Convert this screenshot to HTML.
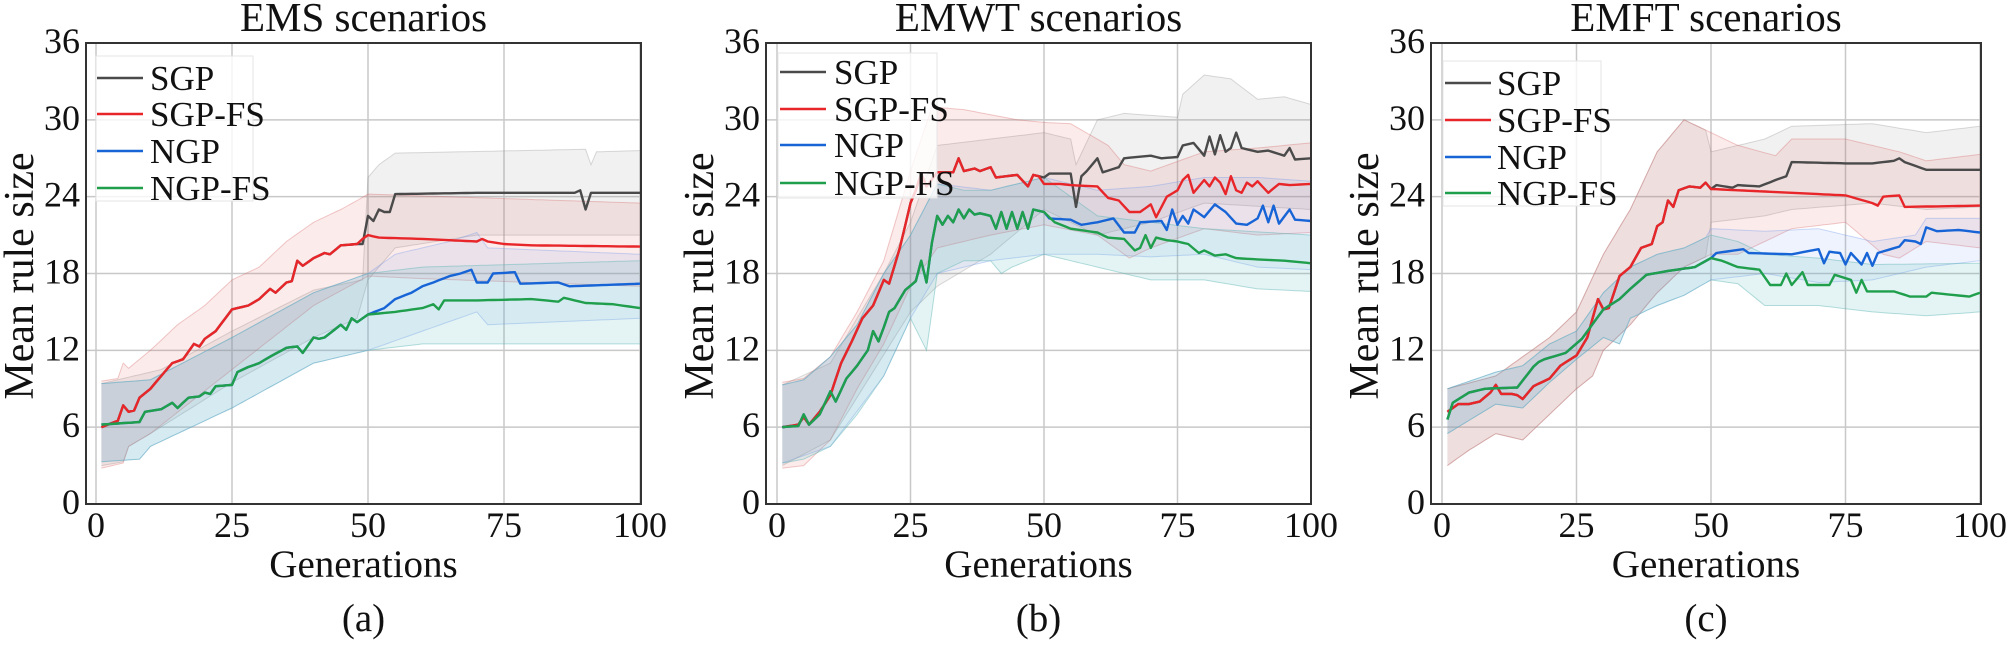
<!DOCTYPE html>
<html><head><meta charset="utf-8">
<style>
html,body{margin:0;padding:0;background:#fff;}
svg{display:block;}
text{font-family:"Liberation Serif","Times New Roman",serif;fill:#111;}
</style></head>
<body>
<svg id="s" width="2007" height="646" viewBox="0 0 2007 646" xmlns="http://www.w3.org/2000/svg"></svg>
<script>
const NS="http://www.w3.org/2000/svg";
const S=document.getElementById('s');
function el(t,a,txt){const e=document.createElementNS(NS,t);for(const k in a)e.setAttribute(k,a[k]);if(txt!==undefined)e.textContent=txt;S.appendChild(e);return e;}
function interp(kp){const out=[];for(let g=1;g<=100;g++){let v=kp[kp.length-1][1];for(let i=0;i<kp.length-1;i++){const a=kp[i],b=kp[i+1];if(g>=a[0]&&g<=b[0]){v=a[1]+(b[1]-a[1])*(g-a[0])/(b[0]-a[0]||1);break;}}if(g<kp[0][0])v=kp[0][1];out.push(v);}return out;}
function merge(pre,post){const a=interp(pre),b=interp(post);return a.map((v,i)=>i+1>=post[0][0]?b[i]:v);}
const TOP=43,BOT=504;
const C={sgp:'#4a4a4a',sgpfs:'#e8262a',ngp:'#1764d6',ngpfs:'#1f9e4c'};
const F={sgp:'rgba(150,150,150,0.13)',sgpfs:'rgba(220,90,90,0.12)',ngp:'rgba(110,150,235,0.11)',ngpfs:'rgba(90,185,185,0.16)'};
const E={sgp:'rgba(150,150,150,0.35)',sgpfs:'rgba(215,100,100,0.35)',ngp:'rgba(110,150,235,0.35)',ngpfs:'rgba(90,180,180,0.45)'};

function panel(P){
 const X=g=>P.x0+(P.x100-P.x0)*g/100, Y=v=>BOT-(BOT-TOP)*v/36;
 for(let g=0;g<=100;g+=25)el('line',{x1:X(g),x2:X(g),y1:TOP,y2:BOT,stroke:'#c8c8c8','stroke-width':1.5});
 for(let v=6;v<36;v+=6)el('line',{x1:P.L,x2:P.R,y1:Y(v),y2:Y(v),stroke:'#c8c8c8','stroke-width':1.5});
 for(const k of ['sgp','sgpfs','ngp','ngpfs']){
  const u=P.bands[k][0],l=P.bands[k][1];
  let d='M';for(let i=0;i<100;i++)d+=X(i+1).toFixed(1)+','+Y(u[i]).toFixed(1)+' L';
  for(let i=99;i>=0;i--)d+=X(i+1).toFixed(1)+','+Y(l[i]).toFixed(1)+(i?' L':' Z');
  el('path',{d:d,fill:F[k],stroke:'none'});
  for(const arr of [u,l]){el('polyline',{points:arr.map((v,i)=>X(i+1).toFixed(1)+','+Y(v).toFixed(1)).join(' '),fill:'none',stroke:E[k],'stroke-width':1});}
 }
 for(const k of ['sgp','sgpfs','ngp','ngpfs']){
  el('polyline',{points:P.m[k].map((v,i)=>X(i+1).toFixed(1)+','+Y(v).toFixed(1)).join(' '),fill:'none',stroke:C[k],'stroke-width':2.4,'stroke-linejoin':'round'});
 }
 el('rect',{x:P.L,y:TOP,width:P.R-P.L,height:BOT-TOP,fill:'none',stroke:'#333','stroke-width':2});
 for(let v=0;v<=36;v+=6)el('text',{x:P.L-6,y:Y(v)+10,'font-size':36,'text-anchor':'end'},String(v));
 for(let g=0;g<=100;g+=25)el('text',{x:X(g),y:537,'font-size':36,'text-anchor':'middle'},String(g));
 const cx=(P.L+P.R)/2;
 el('text',{x:cx,y:577,'font-size':39,'text-anchor':'middle'},'Generations');
 el('text',{x:cx,y:631,'font-size':39,'text-anchor':'middle'},P.cap);
 el('text',{x:cx,y:31,'font-size':41,'text-anchor':'middle'},P.title);
 el('text',{x:0,y:0,'font-size':42,'text-anchor':'middle',transform:`translate(${P.L-53},276) rotate(-90)`},'Mean rule size');
 const lg=P.leg;
 el('rect',{x:lg.bx,y:lg.by,width:lg.bw,height:lg.bh,fill:'rgba(255,255,255,0.8)',stroke:'#e6e6e6','stroke-width':1});
 const names=[['sgp','SGP'],['sgpfs','SGP-FS'],['ngp','NGP'],['ngpfs','NGP-FS']];
 names.forEach((n,i)=>{const y=lg.rows[i];el('line',{x1:lg.lx,x2:lg.lx+46,y1:y,y2:y,stroke:C[n[0]],'stroke-width':2.6});el('text',{x:lg.tx,y:y+12,'font-size':35},n[1]);});
}

(function(){
 const red=interp([[1,6],[4,6.5],[5,7.7],[6,7.2],[7,7.3],[8,8.3],[10,9],[12,10],[14,11],[16,11.3],[18,12.5],[19,12.3],[20,12.9],[22,13.5],[25,15.2],[28,15.5],[30,16],[32,16.8],[33,16.5],[35,17.3],[36,17.4],[37,19],[38,18.6],[40,19.2],[42,19.6],[43,19.5],[45,20.2],[48,20.3],[49,20.7],[50,21],[52,20.8],[60,20.7],[70,20.5],[71,20.7],[72,20.5],[75,20.3],[80,20.2],[100,20.1]]);
 const green=interp([[1,6.2],[8,6.4],[9,7.2],[12,7.4],[14,7.9],[15,7.5],[17,8.3],[19,8.4],[20,8.7],[21,8.6],[22,9.2],[25,9.3],[26,10.3],[28,10.7],[30,11],[32,11.5],[35,12.2],[37,12.3],[38,11.8],[40,13],[41,12.9],[42,13],[45,14],[46,13.6],[47,14.5],[48,14.2],[50,14.8],[55,15],[60,15.3],[62,15.6],[63,15.2],[64,15.9],[70,15.9],[80,16],[85,15.8],[86,16.1],[90,15.7],[95,15.6],[100,15.3]]);
 const blue=green.map((v,i)=>v);const bk=interp([[50,14.8],[53,15.3],[55,16],[58,16.5],[60,17],[62,17.3],[65,17.8],[67,18],[69,18.3],[70,17.3],[72,17.3],[73,18],[77,18.1],[78,17.2],[85,17.3],[87,17],[100,17.2]]);
 for(let g=50;g<=100;g++)blue[g-1]=bk[g-1];
 const sgp=red.slice();const sk=interp([[49,20.3],[50,22.5],[51,22.1],[52,23],[53,22.8],[54,22.8],[55,24.2],[70,24.3],[88,24.3],[89,24.5],[90,23],[91,24.3],[100,24.3]]);
 for(let g=49;g<=100;g++)sgp[g-1]=sk[g-1];
 panel({L:86,R:641,x0:96,x100:640,title:'EMS scenarios',cap:'(a)',
  m:{sgp:sgp,sgpfs:red,ngp:blue,ngpfs:green},
  bands:{
   sgp:[interp([[1,9.4],[12,10.5],[25,13.5],[40,16.7],[49,17.5],[50,25.5],[52,26.5],[55,27.4],[90,27.7],[91,26.5],[92,27.5],[100,27.6]]),interp([[1,3],[5,3.3],[6,4.5],[10,5.5],[25,9.5],[40,13],[48,14.5],[50,17.5],[55,20],[70,21],[90,21],[100,21]])],
   sgpfs:[interp([[1,9.6],[4,9.8],[5,11],[6,10.6],[10,12],[15,14],[20,15.5],[25,17.5],[30,18.5],[35,20.5],[40,22],[45,23],[48,23.7],[50,24.2],[100,23.5]]),interp([[1,2.8],[5,3.2],[6,4.5],[10,5.5],[25,10.5],[40,15.5],[50,17.8],[60,17.6],[100,17]])],
   ngp:[merge([[1,9.4],[10,9.7],[25,13],[40,16.5],[50,18]],[[50,18],[55,19.5],[65,20.5],[70,21.2],[72,20],[100,19.5]]),merge([[1,3.3],[8,3.5],[10,4.5],[25,7.5],[40,11],[50,12]],[[50,12],[60,13.5],[70,15],[72,14],[100,14.5]])],
   ngpfs:[interp([[1,9.4],[10,9.7],[25,13],[40,16.5],[50,18],[60,18.5],[100,19]]),interp([[1,3.3],[8,3.5],[10,4.5],[25,7.5],[40,11],[50,12],[60,12.5],[100,12.5]])]},
  leg:{bx:96,by:56,bw:157,bh:145,lx:97,tx:150,rows:[78,114,151,188]}});
})();

(function(){
 const red=interp([[1,6],[4,6.2],[5,6.8],[6,6.2],[8,7.2],[10,8.5],[12,11],[14,12.7],[16,14.5],[18,15.5],[20,17.5],[21,17.2],[23,20],[25,23.5],[26,24.5],[27,25.8],[28,24.8],[30,25.9],[33,25.9],[34,27],[35,26],[37,26.2],[38,26],[40,26.3],[41,25.5],[45,25.7],[47,24.8],[48,25.7],[49,25.6],[50,25],[53,25],[55,24.9],[60,24.8],[62,23.9],[64,23.7],[66,22.8],[68,22.8],[70,23.4],[71,22.4],[73,24],[75,24.5],[76,25.3],[77,25.7],[78,24.3],[80,25.3],[81,24.8],[82,25.5],[83,25.1],[84,24.2],[85,25.6],[86,24.5],[87,24.3],[88,25.1],[89,24.8],[90,25.2],[92,24.3],[94,25],[96,24.9],[100,25]]);
 const green=interp([[1,6],[4,6.1],[5,7],[6,6.2],[8,7],[10,8.8],[11,8],[13,9.8],[15,10.8],[17,12],[18,13.5],[19,12.7],[20,13.8],[21,15],[22,15.3],[24,16.7],[26,17.4],[27,19],[28,17.3],[29,20.4],[30,22.5],[31,21.8],[32,22.5],[33,22],[34,23],[35,22.3],[36,23],[37,22.6],[38,22.7],[40,22.5],[41,21.5],[42,22.8],[43,21.5],[44,22.8],[45,21.5],[46,22.8],[47,21.5],[48,23],[50,22.8],[52,22],[55,21.5],[60,21.2],[62,20.8],[65,20.7],[67,19.8],[68,20],[69,21],[70,20],[71,20.8],[73,20.6],[75,20.5],[77,20.3],[79,19.6],[80,19.8],[82,19.4],[84,19.5],[86,19.2],[90,19.1],[95,19],[100,18.8]]);
 const blue=green.slice();const bk=interp([[50,22.8],[51,22.3],[55,22.2],[57,21.8],[60,22],[63,22.3],[65,21.2],[67,21.2],[68,22],[72,22.1],[73,21.4],[74,23],[75,21.8],[76,22.5],[77,21.9],[78,23],[80,22.4],[82,23.4],[84,22.8],[86,21.9],[88,21.8],[90,22.3],[91,23.3],[92,22],[93,23.3],[94,21.9],[96,23],[97,22.2],[100,22.1]]);
 for(let g=50;g<=100;g++)blue[g-1]=bk[g-1];
 const sgp=red.slice();const sk=interp([[49,25.6],[50,25.5],[51,25.8],[55,25.8],[56,23.2],[57,25.6],[58,26],[60,27],[61,25.9],[64,26.3],[65,27],[70,27.2],[72,27],[75,27.1],[76,28],[78,28.2],[80,27.2],[81,28.7],[82,27.3],[83,28.8],[84,27.5],[85,27.8],[86,29],[87,27.8],[90,27.5],[92,27.6],[95,27.2],[96,27.8],[97,26.9],[100,27]]);
 for(let g=49;g<=100;g++)sgp[g-1]=sk[g-1];
 panel({L:766,R:1311,x0:777,x100:1311,title:'EMWT scenarios',cap:'(b)',
  m:{sgp:sgp,sgpfs:red,ngp:blue,ngpfs:green},
  bands:{
   sgp:[interp([[1,9.3],[10,11],[20,18],[25,22],[30,28],[50,29],[55,28.5],[56,26.5],[60,30],[65,30.5],[75,30.2],[76,32],[80,33.5],[85,33.2],[90,31.6],[95,31.8],[100,31.2]]),interp([[1,3],[10,5],[25,15],[30,17],[40,19.5],[50,23],[60,21],[70,22],[80,23.5],[100,23]])],
   sgpfs:[interp([[1,9.5],[5,9.8],[10,11.5],[15,15],[20,19],[25,26],[29,31],[35,30.8],[45,30],[50,29.8],[55,29.7],[62,28],[65,26.5],[70,26],[80,27.5],[90,27.8],[100,28.2]]),interp([[1,2.8],[5,3],[10,5],[15,9],[20,12.5],[25,17],[30,20],[40,21],[50,21.8],[60,21],[66,19.2],[70,20],[80,21.5],[90,21],[100,21.2]])],
   ngp:[merge([[1,9.3],[5,9.7],[10,11.5],[15,14],[20,18],[25,21],[30,25],[40,24.5],[50,25.5]],[[50,25.5],[60,24.5],[70,24.8],[80,25.5],[90,25.5],[100,25.2]]),merge([[1,3.2],[10,4.5],[20,10],[25,14.5],[30,18],[40,19],[50,19.5]],[[50,19.5],[60,19.5],[70,19.3],[80,19.5],[90,18.5],[100,18.3]])],
   ngpfs:[interp([[1,9.3],[5,9.7],[10,11.5],[15,14],[20,18],[25,21],[30,25],[35,24.5],[40,24.5],[50,25.5],[60,22.5],[70,22],[80,21.5],[100,21]]),interp([[1,3.2],[5,3.5],[10,4.5],[15,7],[20,10],[25,14.5],[28,12],[30,18],[35,19],[40,19],[42,18],[44,18.5],[50,19.5],[60,18.5],[70,17.5],[80,17.5],[90,16.8],[100,16.6]])]},
  leg:{bx:778,by:53,bw:159,bh:145,lx:780,tx:834,rows:[72,109,145,183]}});
})();

(function(){
 const red=interp([[1,7.2],[3,7.8],[5,7.8],[7,8],[9,8.7],[10,9.3],[11,8.6],[13,8.6],[14,8.5],[15,8.2],[17,9.2],[20,9.8],[22,10.8],[25,11.6],[27,13],[28,14.5],[29,16],[30,15.2],[31,15.3],[33,17.8],[35,18.5],[37,20],[39,20.3],[40,21.7],[41,22],[42,23.7],[43,23.2],[44,24.5],[46,24.8],[48,24.7],[49,25.1],[50,24.6],[60,24.4],[70,24.2],[75,24.1],[80,23.5],[81,23.3],[82,24],[85,24.1],[86,23.2],[100,23.3]]);
 const green=interp([[1,6.6],[2,7.9],[5,8.7],[8,9],[14,9.1],[17.5,11],[19,11.3],[23,11.8],[26,12.9],[30,15.2],[33,16],[35,16.8],[38,17.9],[42,18.2],[47,18.5],[50,19.2],[52,19],[55,18.5],[59,18.3],[61,17.1],[63,17.1],[64,18],[65,17.1],[67,18.1],[68,17.1],[72,17.1],[73,17.9],[76,17.5],[77,16.5],[78,17.5],[79,16.6],[84,16.6],[87,16.2],[90,16.2],[91,16.5],[98,16.2],[100,16.5]]);
 const blue=green.slice();const bk=interp([[50,19.2],[51,19.6],[56,19.9],[57,19.6],[65,19.5],[70,19.9],[71,18.8],[72,19.7],[74,19.6],[75,18.7],[76,19.6],[78,18.7],[79,19.6],[80,18.6],[81,19.6],[85,20.1],[86,20.6],[88,20.5],[89,20.3],[90,21.6],[92,21.3],[96,21.4],[100,21.2]]);
 for(let g=50;g<=100;g++)blue[g-1]=bk[g-1];
 const sgp=red.slice();const sk=interp([[49,25.1],[50,24.6],[51,24.9],[54,24.7],[55,24.9],[59,24.8],[62,25.3],[64,25.6],[65,26.7],[75,26.6],[80,26.6],[84,26.8],[85,27],[86,26.7],[90,26.1],[100,26.1]]);
 for(let g=49;g<=100;g++)sgp[g-1]=sk[g-1];
 const ru=interp([[1,9],[10,10],[15,11.5],[20,13],[25,15],[30,19.5],[35,23],[40,27.5],[45,30],[50,29],[55,28],[62,27.2],[65,28.5],[75,28.5],[85,27.5],[90,26.8],[100,27.3]]);
 const rl=interp([[1,3],[5,4.2],[10,5.5],[15,5],[20,7],[25,9],[28,10],[30,12],[35,14],[40,16.5],[45,18.5],[50,19.5],[55,19.5],[60,20.5],[65,21.5],[75,22],[82,19.5],[85,19.2],[90,20.5],[100,20]]);
 const gu=interp([[1,9],[10,10.3],[15,10.8],[20,12.5],[25,13.5],[30,16.5],[35,18.5],[40,19.5],[45,20],[50,21],[55,20.5],[60,19.5],[70,19.2],[80,18.7],[100,18.8]]);
 const gl=interp([[1,5.5],[10,7.8],[15,7.5],[20,9.5],[25,11.3],[30,13],[33,12.5],[35,14.5],[40,15.5],[45,16.3],[50,17.5],[55,17.2],[60,15.5],[70,15.5],[80,15],[90,14.7],[100,15]]);
 const su=ru.slice(),sl=rl.slice();const su2=interp([[50,27.5],[60,28.5],[65,29.5],[80,29.7],[90,29],[100,29.5]]),sl2=interp([[50,22],[60,22.5],[65,23],[80,23.5],[90,23],[100,23.2]]);
 const bu=gu.slice(),bl=gl.slice();const bu2=interp([[50,21.5],[60,21.3],[70,21.5],[80,20.5],[88,21],[90,22.3],[100,22.3]]),bl2=interp([[50,17.5],[60,18],[70,17.3],[80,17.5],[90,18.5],[100,19]]);
 for(let g=50;g<=100;g++){su[g-1]=su2[g-1];sl[g-1]=sl2[g-1];bu[g-1]=bu2[g-1];bl[g-1]=bl2[g-1];}
 panel({L:1431,R:1981,x0:1442,x100:1980,title:'EMFT scenarios',cap:'(c)',
  m:{sgp:sgp,sgpfs:red,ngp:blue,ngpfs:green},
  bands:{sgp:[su,sl],sgpfs:[ru,rl],ngp:[bu,bl],ngpfs:[gu,gl]},
  leg:{bx:1443,by:61,bw:158,bh:145,lx:1445,tx:1497,rows:[83,120,157,193]}});
})();
</script>
</body></html>
